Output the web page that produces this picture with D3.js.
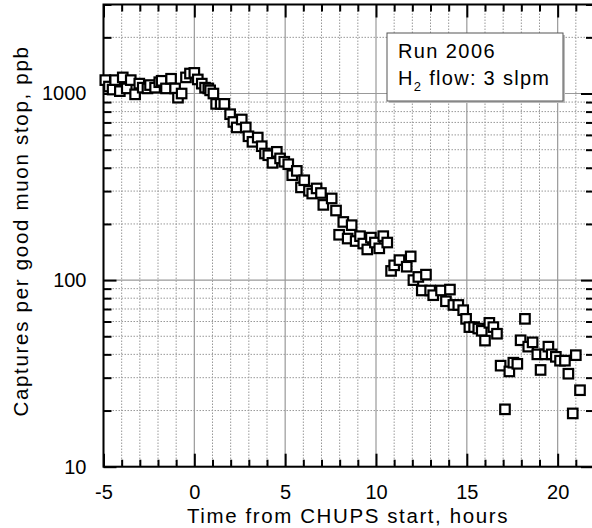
<!DOCTYPE html>
<html lang="en">
<head>
<meta charset="UTF-8">
<script src="https://d3js.org/d3.v7.min.js"></script>
<title>Captures vs time</title>
<style>
  body { margin: 0; background: #fff; }
  svg text { font-family: "Liberation Sans", Arial, sans-serif; fill: #000; }
</style>
</head>
<body>
<svg id="chart" width="592" height="528"></svg>
<script>
// hours from CHUPS start
const hours = [
  -4.9, -4.7, -4.5, -4.36, -4.1, -3.94, -3.72, -3.5, -3.26, -3.03,
  -2.84, -2.58, -2.44, -2.16, -1.93, -1.8, -1.56, -1.28, -1.06, -0.9,
  -0.7, -0.46, -0.24, 0.0, 0.19, 0.41, 0.59, 0.77, 0.87, 1.05,
  1.2, 1.45, 1.65, 1.97, 2.15, 2.33, 2.61, 2.83, 2.98, 3.2,
  3.49, 3.71, 3.89, 4.07, 4.3, 4.54, 4.72, 4.95, 5.17, 5.39,
  5.64, 5.87, 6.05, 6.31, 6.49, 6.73, 6.97, 7.1, 7.56, 7.8,
  7.97, 8.2, 8.44, 8.66, 8.88, 9.12, 9.3, 9.52, 9.72, 9.94,
  10.18, 10.4, 10.62, 10.83, 11.0, 11.29, 11.69, 11.91, 12.06, 12.33,
  12.52, 12.75, 12.98, 13.15, 13.58, 13.85, 14.07, 14.26, 14.53, 14.8,
  14.96, 15.14, 15.4, 15.63, 15.82, 16.0, 16.24, 16.46, 16.66, 16.86,
  17.1, 17.34, 17.56, 17.78, 17.96, 18.2, 18.38, 18.62, 18.88, 19.06,
  19.3, 19.49, 19.67, 19.9, 20.13, 20.4, 20.59, 20.83, 21.0, 21.23
];
// captures per good muon stop, ppb
const captures = [
  1180, 1090, 1050, 1180, 1030, 1220, 1065, 1180, 990, 1130,
  1075, 1065, 1110, 1075, 1150, 1170, 1065, 1200, 1065, 950,
  1000, 1220, 1280, 1290, 1190, 1130, 1075, 1065, 1040, 1000,
  880, 880, 880, 775, 704, 658, 726, 658, 590, 551,
  581, 522, 477, 467, 425, 487, 449, 431, 418, 365,
  385, 314, 343, 301, 291, 310, 293, 253, 274, 236,
  175, 205, 167, 197, 162, 172, 157, 146, 169, 159,
  148, 172, 159, 112, 120, 128, 118, 134, 100, 104,
  88, 107, 88, 83, 88, 77, 89, 73.6, 73.6, 69,
  62, 56, 56, 55, 53.5, 47.4, 59, 56, 51.6, 34.8,
  20.3, 32.4, 36.1, 35.6, 47.6, 62, 44, 46.4, 40, 33,
  40, 44, 40, 38.8, 37, 37, 31.5, 19.3, 39.6, 25.7
];
const xMajorTicks = [-5, 0, 5, 10, 15, 20];
const yMajorTicks = [10, 100, 1000];
const legendLines = ["Run 2006", "flow: 3 slpm"];

const svg = d3.select("#chart");
const pLeft = 103.5, pRight = 594, pTop = 4.5, pBottom = 466.7;

const x = d3.scaleLinear().domain([-5, 22]).range([pLeft, pRight]);
const y = d3.scaleLog().domain([10, 3000]).range([pBottom, pTop]);

const xMinor = d3.range(-5, 23).filter(d => xMajorTicks.indexOf(d) < 0);
const yMinor = [];
[10, 100, 1000].forEach(dec => {
    for (let k = 2; k <= 9; k++) {
        if (dec * k <= 3000) yMinor.push(dec * k);
    }
});

// grid
const grid = svg.append("g");
grid.selectAll(".vmin").data(xMinor).enter().append("line")
    .attr("x1", d => x(d)).attr("x2", d => x(d))
    .attr("y1", pTop).attr("y2", pBottom)
    .attr("stroke", "#999").attr("stroke-width", 1)
    .attr("stroke-dasharray", "1.5,1.5");
grid.selectAll(".hmin").data(yMinor).enter().append("line")
    .attr("x1", pLeft).attr("x2", pRight)
    .attr("y1", d => y(d)).attr("y2", d => y(d))
    .attr("stroke", "#999").attr("stroke-width", 1)
    .attr("stroke-dasharray", "1.5,1.5");
grid.selectAll(".vmaj").data(xMajorTicks).enter().append("line")
    .attr("x1", d => x(d)).attr("x2", d => x(d))
    .attr("y1", pTop).attr("y2", pBottom)
    .attr("stroke", "#999").attr("stroke-width", 1.2);
grid.selectAll(".hmaj").data(yMajorTicks).enter().append("line")
    .attr("x1", pLeft).attr("x2", pRight)
    .attr("y1", d => y(d)).attr("y2", d => y(d))
    .attr("stroke", "#999").attr("stroke-width", 1.2);

// inward ticks on all four sides
const noLabel = () => "";
const plain = d => String(d);
function addAxis(axis, tf) {
    const g = svg.append("g").attr("transform", tf).call(axis);
    g.select(".domain").remove();
    g.selectAll(".tick line").attr("stroke", "#000").attr("stroke-width", 2);
    return g;
}
const xb = addAxis(d3.axisBottom(x).tickValues(xMajorTicks).tickSize(-13).tickPadding(18)
    .tickFormat(plain), `translate(0,${pBottom})`);
xb.selectAll("text").attr("font-size", 20).attr("font-family", "Liberation Sans, Arial, sans-serif");
addAxis(d3.axisBottom(x).tickValues(xMinor).tickSize(-7).tickFormat(noLabel), `translate(0,${pBottom})`);
addAxis(d3.axisTop(x).tickValues(xMajorTicks).tickSize(-13).tickFormat(noLabel), `translate(0,${pTop})`);
addAxis(d3.axisTop(x).tickValues(xMinor).tickSize(-7).tickFormat(noLabel), `translate(0,${pTop})`);

const yl = addAxis(d3.axisLeft(y).tickValues(yMajorTicks).tickSize(-13).tickPadding(17)
    .tickFormat(plain), `translate(${pLeft},0)`);
yl.selectAll("text").attr("font-size", 20).attr("font-family", "Liberation Sans, Arial, sans-serif");
addAxis(d3.axisLeft(y).tickValues(yMinor).tickSize(-8).tickFormat(noLabel), `translate(${pLeft},0)`);
addAxis(d3.axisRight(y).tickValues(yMajorTicks).tickSize(-13).tickFormat(noLabel), `translate(${pRight},0)`);
addAxis(d3.axisRight(y).tickValues(yMinor).tickSize(-8).tickFormat(noLabel), `translate(${pRight},0)`);

// frame
svg.append("rect")
    .attr("x", pLeft).attr("y", pTop)
    .attr("width", pRight - pLeft).attr("height", pBottom - pTop)
    .attr("fill", "none").attr("stroke", "#000").attr("stroke-width", 2);

// data markers
const pts = hours.map((h, i) => ({ h: h, v: captures[i] }));
svg.append("g").selectAll("rect").data(pts).enter().append("rect")
    .attr("x", d => x(d.h) - 4.75).attr("y", d => y(d.v) - 4.75)
    .attr("width", 9.5).attr("height", 9.5)
    .attr("fill", "#fff").attr("stroke", "#000").attr("stroke-width", 2.2);

// legend
const lg = svg.append("g");
lg.append("rect").attr("x", 389).attr("y", 35).attr("width", 176).attr("height", 68)
    .attr("fill", "#bbb");
lg.append("rect").attr("x", 387).attr("y", 33).attr("width", 176).attr("height", 68)
    .attr("fill", "#fff").attr("stroke", "#555").attr("stroke-width", 1);
lg.append("text").attr("x", 398).attr("y", 58).attr("font-size", 20)
    .attr("letter-spacing", 1.4).text(legendLines[0]);
const l2 = lg.append("text").attr("x", 398).attr("y", 85).attr("font-size", 20)
    .attr("letter-spacing", 1.3);
l2.append("tspan").text("H");
l2.append("tspan").attr("font-size", 13).attr("dy", 6).text("2");
l2.append("tspan").attr("dy", -6).text(" " + legendLines[1]);

// axis titles
svg.append("text")
    .attr("x", 348).attr("y", 523)
    .attr("text-anchor", "middle").attr("font-size", 20.5).attr("letter-spacing", 1.6)
    .text("Time from CHUPS start, hours");
svg.append("text")
    .attr("transform", "translate(28,231) rotate(-90)")
    .attr("text-anchor", "middle").attr("font-size", 20.5).attr("letter-spacing", 1.7)
    .text("Captures per good muon stop, ppb");
</script>
</body>
</html>
